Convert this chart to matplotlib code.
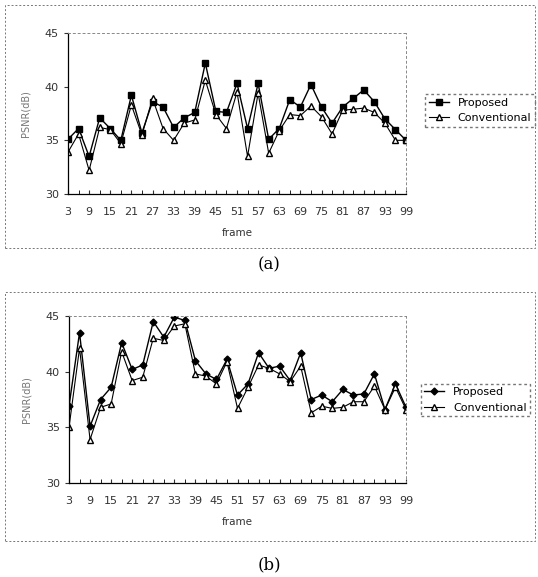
import numpy as np
import matplotlib
matplotlib.use('Agg')
import matplotlib.pyplot as plt
from matplotlib.patches import Rectangle

frames = list(range(3, 100, 3))
tick_frames = list(range(3, 100, 6))

# (a)
proposed_a = [35.1, 36.1, 33.5, 37.1, 36.1, 35.0, 39.2, 35.7, 38.6, 38.1, 36.2,
              37.1, 37.6, 42.2, 37.7, 37.6, 40.3, 36.1, 40.3, 35.1, 36.1, 38.8,
              38.1, 40.2, 38.1, 36.6, 38.1, 38.9, 39.7, 38.6, 37.0, 36.0, 35.0]
conventional_a = [33.9, 35.6, 32.2, 36.2, 36.0, 34.7, 38.3, 35.5, 38.9, 36.1, 35.0,
                  36.6, 36.9, 40.6, 37.4, 36.1, 39.5, 33.5, 39.4, 33.8, 35.9, 37.4,
                  37.3, 38.2, 37.2, 35.6, 37.8, 37.9, 38.0, 37.6, 36.6, 35.0, 35.0]

# (b)
proposed_b = [36.9, 43.5, 35.1, 37.5, 38.6, 42.6, 40.2, 40.6, 44.5, 43.1, 44.9,
              44.6, 41.0, 39.8, 39.3, 41.1, 37.9, 38.9, 41.7, 40.3, 40.5, 39.2,
              41.7, 37.5, 37.9, 37.3, 38.4, 37.9, 38.0, 39.8, 36.6, 38.9, 36.8]
conventional_b = [35.0, 42.1, 33.9, 36.8, 37.1, 41.8, 39.2, 39.5, 43.0, 42.8, 44.1,
                  44.3, 39.8, 39.6, 38.9, 40.9, 36.7, 38.6, 40.6, 40.3, 39.8, 39.1,
                  40.5, 36.3, 36.9, 36.7, 36.8, 37.3, 37.3, 38.7, 36.6, 38.6, 36.6]

W, H = 538, 577
fig = plt.figure(figsize=(W / 100, H / 100), dpi=100)


def px(x0, y0, x1, y1):
    return [x0 / W, 1 - y1 / H, (x1 - x0) / W, (y1 - y0) / H]


def panel(rect, box, legend_rect, prop, conv, pmarker, psize, cap, cap_y):
    # dotted chart-area frame
    bx0, by0, bx1, by1 = box
    fig.patches.append(Rectangle((bx0 / W, 1 - by1 / H), (bx1 - bx0) / W, (by1 - by0) / H,
                                 transform=fig.transFigure, fill=False,
                                 edgecolor='#777777', linestyle=(0, (2, 2)), linewidth=0.7))
    ax = fig.add_axes(px(*rect))
    ax.plot(frames, prop, color='black', linewidth=1.0, marker=pmarker,
            markersize=psize, markerfacecolor='black', label='Proposed')
    ax.plot(frames, conv, color='black', linewidth=0.8, marker='^',
            markersize=5, markerfacecolor='white', label='Conventional')
    ax.set_xlim(3, 99)
    ax.set_ylim(30, 45)
    ax.set_yticks([30, 35, 40, 45])
    ax.set_xticks(tick_frames)
    ax.set_xticks(frames, minor=True)
    ax.tick_params(axis='both', labelsize=8, colors='#333333', length=3)
    ax.tick_params(axis='x', which='both', direction='in', length=3, pad=9)
    for s in ['top', 'right']:
        ax.spines[s].set_linestyle((0, (2, 3)))
        ax.spines[s].set_color('#888888')
        ax.spines[s].set_linewidth(0.7)
    ax.spines['left'].set_linewidth(0.9)
    ax.spines['bottom'].set_linewidth(0.9)
    ax.set_xlabel('frame', fontsize=7.5, color='#333333', labelpad=8)
    ax.set_ylabel('PSNR(dB)', fontsize=7, color='#777777', labelpad=10)
    lax = fig.add_axes(px(*legend_rect))
    lax.axis('off')
    h, l = ax.get_legend_handles_labels()
    leg = lax.legend(h, l, loc='center', fontsize=8, frameon=True,
                     handlelength=1.8, borderpad=0.3, labelspacing=0.5)
    leg.get_frame().set_edgecolor('#555555')
    leg.get_frame().set_linestyle((0, (2, 2)))
    leg.get_frame().set_boxstyle('square', pad=0)
    fig.text(0.5, 1 - cap_y / H, cap, ha='center', va='center', fontsize=12,
             family='DejaVu Serif')
    return ax


panel((68, 33, 406, 194), (5, 5, 535, 248), (425, 93, 535, 128),
      proposed_a, conventional_a, 's', 5, '(a)', 265)
panel((69, 316, 406, 483), (5, 292, 535, 541), (416, 382, 535, 418),
      proposed_b, conventional_b, 'D', 3.5, '(b)', 565)

fig.savefig('out.png', dpi=100)
